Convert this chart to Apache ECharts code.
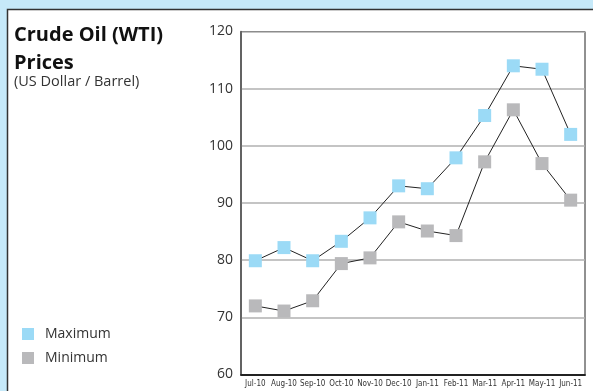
<!DOCTYPE html>
<html>
<head>
<meta charset="utf-8">
<script src="https://cdn.jsdelivr.net/npm/echarts@6/dist/echarts.min.js"></script>
<style>
  html, body { margin: 0; padding: 0; background: #c6e9f9; }
  #chart { width: 593px; height: 391px; }
</style>
</head>
<body>
<div id="chart"></div>
<script>
// Monthly WTI crude price range, Jul 2010 - Jun 2011
const months = ['Jul-10', 'Aug-10', 'Sep-10', 'Oct-10', 'Nov-10', 'Dec-10',
                'Jan-11', 'Feb-11', 'Mar-11', 'Apr-11', 'May-11', 'Jun-11'];
const maxPrice = [79.9, 82.2, 79.9, 83.3, 87.4, 93.0, 92.5, 97.9, 105.3, 114.0, 113.4, 102.0];
const minPrice = [72.0, 71.1, 72.9, 79.4, 80.4, 86.7, 85.1, 84.3, 97.2, 106.3, 96.9, 90.5];
const yTicks = { min: 60, max: 120, interval: 10 };

const chart = echarts.init(document.getElementById('chart'), null, { renderer: 'canvas' });

const FONT = '"Open Sans", "Noto Sans", sans-serif';

chart.setOption({
  backgroundColor: '#c6e9f9',
  animation: false,
  graphic: [
    {
      type: 'rect', z: -10,
      shape: { x: 7.5, y: 9.5, width: 620, height: 420 },
      style: { fill: '#ffffff', stroke: '#333333', lineWidth: 1.5 }
    },
    {
      type: 'text', left: 14, top: 21,
      style: {
        text: 'Crude Oil (WTI)\nPrices',
        font: 'bold 20px ' + FONT,
        lineHeight: 28,
        fill: '#111111'
      }
    },
    {
      type: 'text', left: 14, top: 74,
      style: {
        text: '(US Dollar / Barrel)',
        font: '14.5px ' + FONT,
        fill: '#333333'
      }
    }
  ],
  legend: {
    orient: 'vertical',
    left: 17, top: 322,
    icon: 'rect',
    itemWidth: 12, itemHeight: 12,
    itemGap: 10,
    textStyle: { fontFamily: FONT, fontSize: 14, color: '#333333', padding: [0, 0, 0, 6] },
    data: ['Maximum', 'Minimum']
  },
  grid: {
    left: 241, right: 8, top: 31.5, bottom: 16.5,
    show: true, borderColor: '#222222', borderWidth: 1
  },
  xAxis: {
    type: 'category',
    data: months,
    boundaryGap: true,
    axisLine: { lineStyle: { color: '#222222', width: 2 } },
    axisTick: { inside: true, length: 8, interval: 0, lineStyle: { color: '#222222', width: 1 } },
    axisLabel: {
      interval: 0,
      margin: 5,
      fontFamily: '"DejaVu Sans Condensed", "DejaVu Sans", sans-serif',
      fontSize: 8,
      color: '#333333'
    }
  },
  yAxis: {
    type: 'value',
    min: yTicks.min, max: yTicks.max, interval: yTicks.interval,
    axisLine: { show: true, lineStyle: { color: '#555555', width: 1.5 } },
    axisTick: { show: false },
    splitLine: { lineStyle: { color: '#b0b0b0', width: 1.5 } },
    axisLabel: { fontFamily: FONT, fontSize: 14, color: '#333333', margin: 8 }
  },
  series: [
    {
      name: 'Maximum',
      type: 'line',
      data: maxPrice,
      symbol: 'rect', symbolSize: 13,
      itemStyle: { color: '#9bdaf6' },
      lineStyle: { color: '#222222', width: 1 },
      z: 3
    },
    {
      name: 'Minimum',
      type: 'line',
      data: minPrice,
      symbol: 'rect', symbolSize: 13,
      itemStyle: { color: '#b9b9bb' },
      lineStyle: { color: '#222222', width: 1 },
      z: 3
    }
  ]
});
</script>
</body>
</html>
